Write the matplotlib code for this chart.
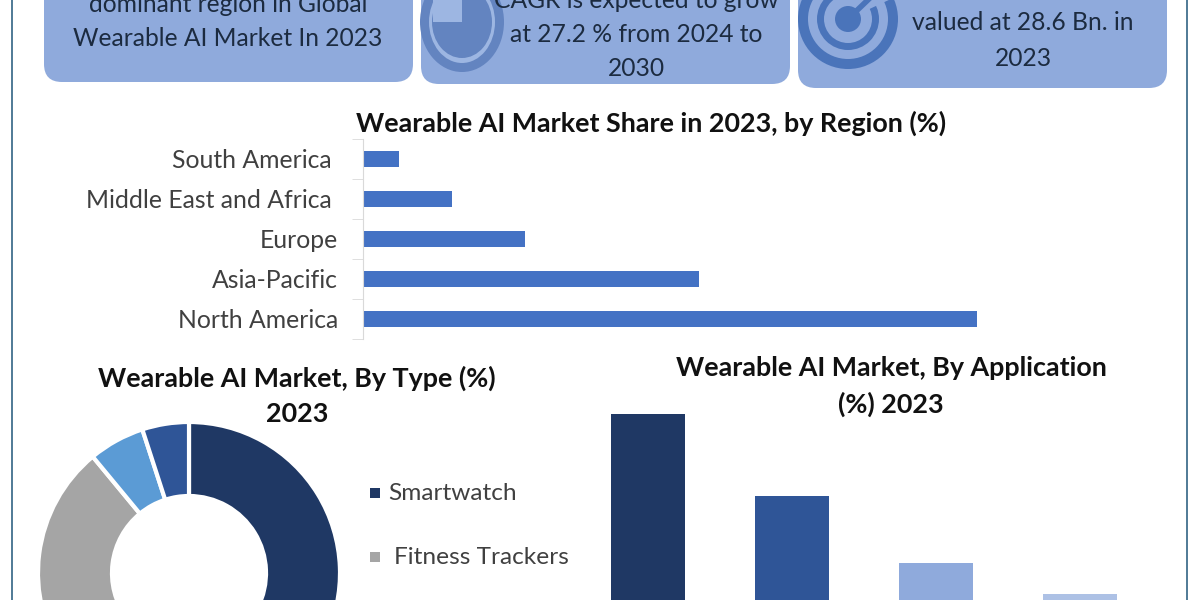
import matplotlib.pyplot as plt
from matplotlib.patches import Ellipse, FancyBboxPatch, Rectangle, Wedge

plt.rcParams['font.family'] = ['Lato', 'DejaVu Sans']

regions = ['South America ', 'Middle East and Africa ', 'Europe', 'Asia-Pacific', 'North America']
region_share = [2.9, 7.2, 13.2, 27.3, 49.9]

type_share = [65, 24, 6, 5]
type_colors = ['#1f3864', '#a5a5a5', '#5b9bd5', '#2f5597']
legend_labels = ['Smartwatch', 'Fitness Trackers']

app_share = [49, 30, 14.5, 7.2]
app_colors = ['#1f3864', '#2f5597', '#8faadc', '#adc1e5']

BOX = '#8faadc'
ICON = '#6384c0'
TEXT = '#1c2b40'


def px_axes(left, top, right, bottom):
    return fig.add_axes([left / 1200, 1 - bottom / 600, (right - left) / 1200, (bottom - top) / 600])


fig = plt.figure(dpi=100, figsize=(12, 6), facecolor='white')

# overlay in pixel coordinates for the frame, info boxes and titles
bg = fig.add_axes([0, 0, 1, 1])
bg.set_xlim(0, 1200)
bg.set_ylim(600, 0)
bg.axis('off')

bg.plot([12, 12], [0, 600], color='#4f7a96', lw=1.4)
bg.plot([1187, 1187], [0, 600], color='#4f7a96', lw=1.4)

for x0, x1, y1 in [(44, 413, 82), (421, 790, 84), (798, 1167, 88)]:
    bg.add_patch(FancyBboxPatch((x0 + 18, -60), x1 - x0 - 36, y1 + 60 - 18,
                                boxstyle='round,pad=18', fc=BOX, ec='none'))

# clock icon
bg.add_patch(Ellipse((462, 22), 84, 100, fc=ICON, ec='none'))
bg.add_patch(Ellipse((462, 22), 66, 82, fc='#9db6e2', ec='none'))
bg.add_patch(Ellipse((462, 22), 60, 72, fc=ICON, ec='none'))
bg.add_patch(Rectangle((433, -10), 29, 32, fc='#9db6e2', ec='none'))

# target icon
for r, c in [(50, '#4a74ba'), (40, BOX), (31, '#4a74ba'), (24, BOX)]:
    bg.add_patch(Ellipse((848, 19), 2 * r, 2 * r, fc=c, ec='none'))
bg.add_patch(Wedge((848, 19), 52, -60, -25, fc=BOX, ec='none'))
bg.add_patch(Ellipse((848, 19), 26, 26, fc='#4a74ba', ec='none'))
bg.plot([848, 872], [19, -4], color='#4a74ba', lw=4)

box_text = [
    (228, 4, 'dominant region in Global'),
    (228, 38, 'Wearable AI Market In 2023'),
    (636, 1, 'CAGR is expected to grow'),
    (636, 34, 'at 27.2 % from 2024 to'),
    (636, 69, '2030'),
    (1023, 23, 'valued at 28.6 Bn. in'),
    (1023, 58, '2023'),
]
for x, y, s in box_text:
    bg.text(x, y, s, ha='center', va='center', fontsize=17.7, color=TEXT)

titles = [
    (651, 123.5, 'Wearable AI Market Share in 2023, by Region (%)'),
    (297, 378, 'Wearable AI Market, By Type (%)'),
    (297, 414.5, '2023'),
    (891, 368.5, 'Wearable AI Market, By Application'),
    (891, 404, '(%) 2023'),
]
for x, y, s in titles:
    bg.text(x, y, s, ha='center', va='center', fontsize=19.4, fontweight='bold', color='#111111')

# legend for the donut
for i, label in enumerate(legend_labels):
    y = 493 + 64 * i
    bg.add_patch(Rectangle((370, y - 5), 10, 10, fc=type_colors[i], ec='none'))
    bg.text(388 + 6 * i, y + 1, label, ha='left', va='center', fontsize=17.6, color='#404040')

# region bars
ax = px_axes(363, 139, 1040, 339)
ax.barh(regions[::-1], region_share[::-1], height=0.4, color='#4472c4')
ax.set_xlim(0, 55)
ax.set_ylim(-0.5, 4.5)
ax.patch.set_alpha(0)
for side in ['top', 'right', 'bottom']:
    ax.spines[side].set_visible(False)
ax.spines['left'].set_color('#d9d9d9')
ax.xaxis.set_visible(False)
ax.set_yticks([i - 0.5 for i in range(6)], minor=True)
ax.tick_params(axis='y', which='minor', length=8, color='#d9d9d9')
ax.tick_params(axis='y', which='major', length=0, pad=18, labelsize=17.8, labelcolor='#404040')

# donut
ax2 = px_axes(38, 422, 340, 724)
ax2.pie(type_share, colors=type_colors, startangle=90, counterclock=False, radius=1,
        wedgeprops={'width': 0.49, 'edgecolor': 'white', 'linewidth': 3})
ax2.set_xlim(-1, 1)
ax2.set_ylim(-1, 1)

# application bars
ax3 = px_axes(576, 400, 1152, 625)
ax3.bar(range(len(app_share)), app_share, width=0.51, color=app_colors)
ax3.set_xlim(-0.5, 3.5)
ax3.set_ylim(0, 225 / 4.3)
ax3.axis('off')

fig.savefig('out.png', dpi=100)
